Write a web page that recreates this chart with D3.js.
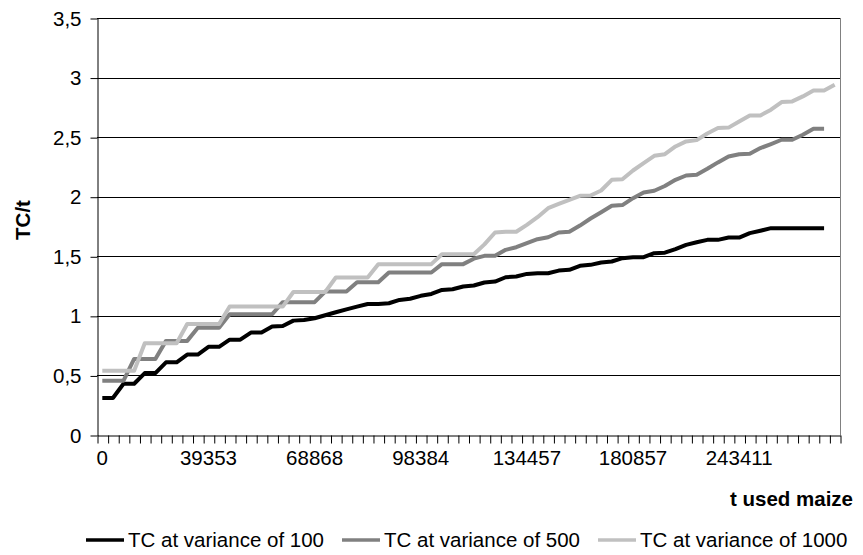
<!DOCTYPE html>
<html lang="en">
<head>
<meta charset="UTF-8">
<title>TC/t</title>
<script src="https://d3js.org/d3.v7.min.js"></script>
<style>
  body { margin: 0; background: #fff; }
  svg text { font-family: "Liberation Sans", Arial, sans-serif; fill: #000; }
</style>
</head>
<body>
<div id="chart"></div>
<script>
// 70 categories of "t used maize", only every 10th one carries a label
const categories = d3.range(70);
const tickIndex = [0, 10, 20, 30, 40, 50, 60];
const tickLabels = ["0", "39353", "68868", "98384", "134457", "180857", "243411"];
const yTicks = [0, 0.5, 1, 1.5, 2, 2.5, 3, 3.5];

const tc100 = [0.31, 0.31, 0.43, 0.43, 0.52, 0.52, 0.61, 0.61, 0.675, 0.675,
  0.74, 0.74, 0.80, 0.80, 0.86, 0.86, 0.91, 0.915, 0.96, 0.965,
  0.98, 1.005, 1.03, 1.055, 1.078, 1.10, 1.10, 1.106, 1.134, 1.144,
  1.168, 1.184, 1.218, 1.223, 1.246, 1.255, 1.28, 1.288, 1.324, 1.33,
  1.352, 1.358, 1.358, 1.38, 1.386, 1.42, 1.428, 1.448, 1.456, 1.484,
  1.492, 1.492, 1.526, 1.53, 1.56, 1.596, 1.618, 1.638, 1.638, 1.657,
  1.657, 1.694, 1.714, 1.736, 1.736, 1.736, 1.736, 1.736, 1.736, null];

const tc500 = [0.456, 0.456, 0.456, 0.638, 0.638, 0.638, 0.79, 0.79, 0.79, 0.90,
  0.90, 0.90, 1.013, 1.013, 1.013, 1.013, 1.013, 1.115, 1.115, 1.115,
  1.115, 1.204, 1.204, 1.204, 1.282, 1.282, 1.282, 1.364, 1.364, 1.364,
  1.364, 1.364, 1.434, 1.434, 1.434, 1.48, 1.504, 1.504, 1.554, 1.576,
  1.61, 1.643, 1.66, 1.70, 1.706, 1.758, 1.817, 1.87, 1.924, 1.93,
  1.988, 2.036, 2.05, 2.09, 2.142, 2.178, 2.184, 2.234, 2.288, 2.338,
  2.357, 2.36, 2.408, 2.442, 2.478, 2.478, 2.52, 2.57, 2.57, null];

const tc1000 = [0.54, 0.54, 0.54, 0.54, 0.77, 0.77, 0.77, 0.77, 0.932, 0.932,
  0.932, 0.932, 1.078, 1.078, 1.078, 1.078, 1.078, 1.078, 1.20, 1.20,
  1.20, 1.20, 1.322, 1.322, 1.322, 1.322, 1.434, 1.434, 1.434, 1.434,
  1.434, 1.434, 1.517, 1.517, 1.517, 1.517, 1.60, 1.70, 1.706, 1.706,
  1.764, 1.828, 1.904, 1.94, 1.974, 2.008, 2.01, 2.052, 2.142, 2.146,
  2.22, 2.282, 2.343, 2.357, 2.422, 2.464, 2.475, 2.531, 2.576, 2.58,
  2.632, 2.682, 2.682, 2.73, 2.794, 2.80, 2.842, 2.892, 2.892, 2.94];

const seriesNames = ["TC at variance of 100", "TC at variance of 500", "TC at variance of 1000"];
const seriesColors = ["#000000", "#808080", "#c0c0c0"];
const series = [tc100, tc500, tc1000];

const width = 863, height = 555;
const plot = { left: 97, right: 840, top: 18, bottom: 435 };
const fontSize = 20.5;

const svg = d3.select("#chart").append("svg")
  .attr("width", width)
  .attr("height", height);

const x = d3.scaleBand()
  .domain(categories)
  .range([plot.left, plot.right]);

// category boundaries for the tick marks
const xEdge = d3.scaleLinear()
  .domain([0, categories.length])
  .range([plot.left, plot.right]);

const y = d3.scaleLinear()
  .domain([0, 3.5])
  .range([plot.bottom, plot.top]);

// gridlines
svg.append("g")
  .selectAll("line")
  .data(yTicks.filter(d => d > 0))
  .join("line")
  .attr("x1", plot.left)
  .attr("x2", plot.right)
  .attr("y1", d => Math.round(y(d)) + 0.5)
  .attr("y2", d => Math.round(y(d)) + 0.5)
  .attr("stroke", "#000")
  .attr("stroke-width", 1);

// right border of the plot area
svg.append("line")
  .attr("x1", plot.right + 0.5).attr("x2", plot.right + 0.5)
  .attr("y1", plot.top).attr("y2", plot.bottom)
  .attr("stroke", "#808080");

// y axis
const yAxis = svg.append("g")
  .attr("transform", `translate(${plot.left + 0.5},0.5)`)
  .call(d3.axisLeft(y)
    .tickValues(yTicks)
    .tickSize(7)
    .tickSizeOuter(0)
    .tickPadding(9)
    .tickFormat(d => String(d).replace(".", ",")));
yAxis.selectAll("text").style("font-size", fontSize + "px");

// x axis
const xAxis = svg.append("g")
  .attr("transform", `translate(0.5,${plot.bottom + 0.5})`)
  .call(d3.axisBottom(xEdge)
    .tickValues(d3.range(categories.length + 1))
    .tickSize(8)
    .tickSizeOuter(0)
    .tickFormat(""));
svg.selectAll(".domain, .tick line").attr("stroke", "#000");

svg.append("g")
  .selectAll("text")
  .data(tickIndex)
  .join("text")
  .attr("x", (d, i) => x(categories[d]) + x.bandwidth() / 2)
  .attr("y", 465)
  .attr("text-anchor", "middle")
  .style("font-size", fontSize + "px")
  .text((d, i) => tickLabels[i]);

// axis titles
svg.append("text")
  .attr("transform", "translate(30,220) rotate(-90)")
  .attr("text-anchor", "middle")
  .style("font-size", fontSize + "px")
  .style("font-weight", "bold")
  .text("TC/t");

svg.append("text")
  .attr("x", 853)
  .attr("y", 506)
  .attr("text-anchor", "end")
  .style("font-size", fontSize + "px")
  .style("font-weight", "bold")
  .text("t used maize");

// lines
const line = d3.line()
  .defined(d => d != null)
  .x((d, i) => x(categories[i]) + x.bandwidth() / 2)
  .y(d => y(d));

svg.append("g")
  .selectAll("path")
  .data(series)
  .join("path")
  .attr("d", line)
  .attr("fill", "none")
  .attr("stroke", (d, i) => seriesColors[i])
  .attr("stroke-width", 4)
  .attr("stroke-linejoin", "round");

// legend
const legend = svg.append("g");
let lx = 86;
seriesNames.forEach((name, i) => {
  legend.append("line")
    .attr("x1", lx).attr("x2", lx + 38)
    .attr("y1", 540).attr("y2", 540)
    .attr("stroke", seriesColors[i])
    .attr("stroke-width", 3.5);
  const t = legend.append("text")
    .attr("x", lx + 42)
    .attr("y", 547)
    .style("font-size", fontSize + "px")
    .text(name);
  lx += 42 + t.node().getComputedTextLength() + 18;
});
</script>
</body>
</html>
